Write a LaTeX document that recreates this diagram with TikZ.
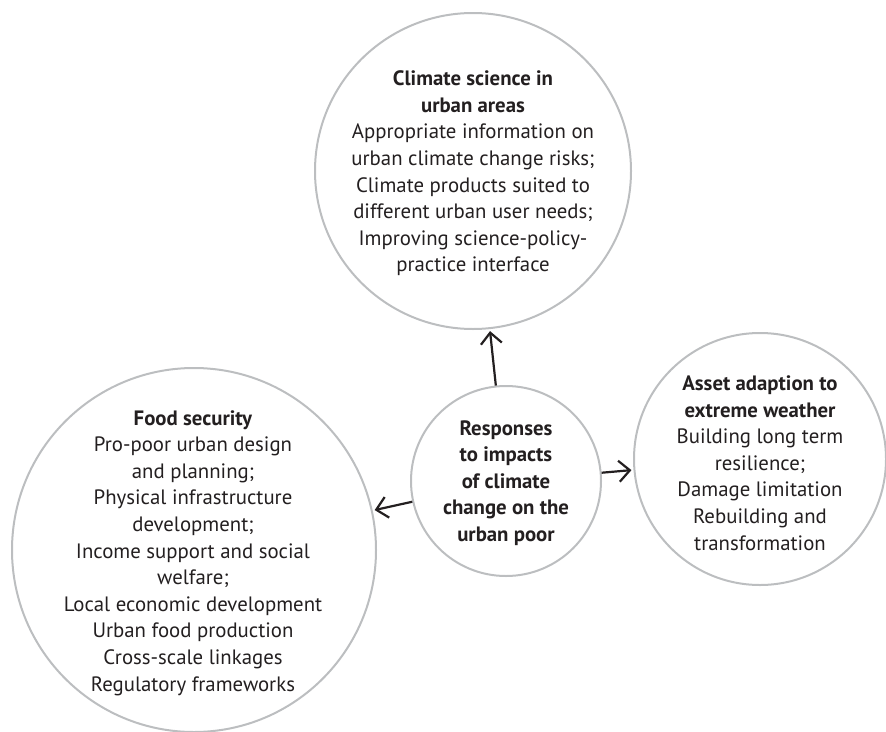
\documentclass[tikz,border=0pt]{standalone}
\usepackage{fontspec}
\setmainfont{PT Sans}
\usetikzlibrary{arrows.meta}
\definecolor{ring}{HTML}{BCBEC0}
\definecolor{ink}{HTML}{231F20}
\begin{document}
\begin{tikzpicture}[x=1pt,y=-1pt,
  ringc/.style={circle, draw=ring, line width=2pt, inner sep=0pt, minimum size=#1},
  txt/.style={align=center, text=ink, font=\fontsize{20.8}{26.6}\selectfont, inner sep=0pt},
  arr/.style={draw=ink, line width=2.2pt, shorten >=2pt, -{Straight Barb[length=11pt,width=21pt,line width=2.2pt]}}
]
\useasboundingbox (0,0) rectangle (886,731);
\node[ringc=316pt] (cTop) at (473,171) {};
\node[ringc=190pt] (cMid) at (506,481) {};
\node[ringc=364pt] (cLeft) at (194,550) {};
\node[ringc=252pt] (cRight) at (760,459) {};

\node[txt] (tTop) at (473,173.5) {\textbf{Climate science in}\\\textbf{urban areas}\\Appropriate information on\\urban climate change risks;\\Climate products suited to\\different urban user needs;\\Improving science-policy-\\practice interface};
\node[txt] (tMid) at (506,483) {\textbf{Responses}\\\textbf{to impacts}\\\textbf{of climate}\\\textbf{change on the}\\\textbf{urban poor}};
\node[txt] (tLeft) at (193,553) {\textbf{Food security}\\Pro-poor urban design\\and planning;\\Physical infrastructure\\development;\\Income support and social\\welfare;\\Local economic development\\Urban food production\\Cross-scale linkages\\Regulatory frameworks};
\node[txt] (tRight) at (760,463) {\textbf{Asset adaption to}\\\textbf{extreme weather}\\Building long term\\resilience;\\Damage limitation\\Rebuilding and\\transformation};

\draw[arr] (cMid) -- (cTop);
\draw[arr] (cMid) -- (cRight);
\draw[arr] (cMid) -- (cLeft);
\end{tikzpicture}
\end{document}
